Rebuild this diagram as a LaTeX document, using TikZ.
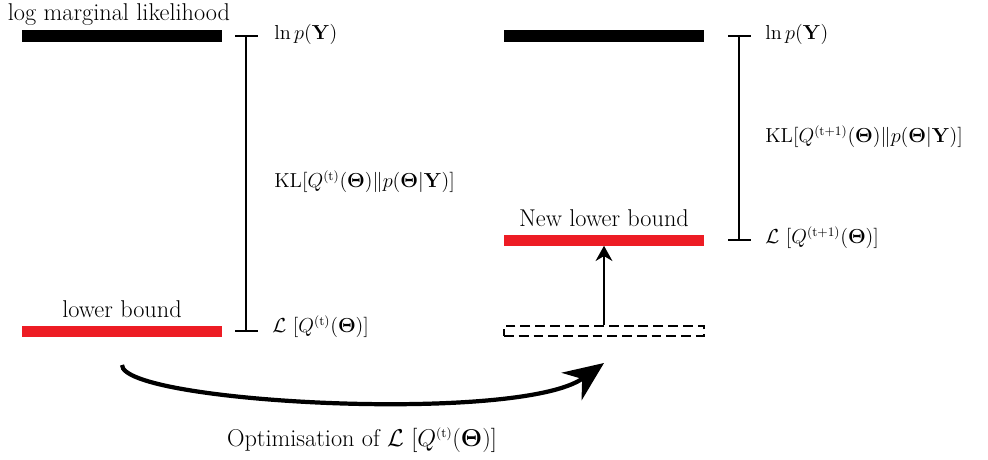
\documentclass[tikz,border=0pt]{standalone}
\usepackage{amsmath, amssymb, bm}
\usepackage{tikz}
\usetikzlibrary{arrows.meta, positioning, calc}
\definecolor{boundred}{RGB}{237, 28, 36}
\tikzset{
    level/.style={rectangle, inner sep=0pt, minimum width=5cm, minimum height=0.275cm},
    lml/.style={level, fill=black},
    lbound/.style={level, fill=boundred},
    oldbound/.style={level, draw, dashed, line width=1.1pt, dash pattern=on 7pt off 3.5pt, minimum height=0.25cm},
    gap/.style={line width=1.3pt},
    tag/.style={anchor=west, inner sep=0pt, font=\fontsize{15.6}{19}\selectfont},
    caption/.style={inner sep=0pt, font=\LARGE}
}
\newcommand{\Qt}[1]{Q^{\mbox{\fontsize{9.2}{10}\selectfont(#1)}}}

\begin{document}
\begin{tikzpicture}[
    x=0.025cm, y=-0.025cm,
    arrow/.style={-{Stealth[length=0.38cm, width=0.42cm]}, line width=1.4pt},
    bigarrow/.style={-{Stealth[length=1cm, width=0.85cm]}, line width=3pt}
]
    \useasboundingbox (0,0) rectangle (988,460);

    % --- LEFT: before the update ---
    \node[lml] (lmlA) at (122,36) {};
    \node[lbound] (lbA) at (122,331) {};
    \node[caption, anchor=base] (lmlAtxt) at (119,21) {log marginal likelihood};
    \node[caption, above=5pt of lbA] (lbAtxt) {lower bound};

    % bracket between ln p(Y) and L
    \coordinate (topA) at (246,36);
    \coordinate (botA) at (246,331);
    \draw[gap] (topA) -- (botA);
    \draw[gap] ($(topA)+(-11,0)$) -- ($(topA)+(12,0)$);
    \draw[gap] ($(botA)+(-11,0)$) -- ($(botA)+(12,0)$);
    \node[tag] (lnA) at (274,34) {$\ln p(\mathbf{Y})$};
    \node[tag] (klA) at (274,182) {$\mathrm{KL}[\Qt{t}(\bm{\Theta})\|p(\bm{\Theta}|\mathbf{Y})]$};
    \node[tag] (elboA) at (272,327) {$\mathcal{L}\ [\Qt{t}(\bm{\Theta})]$};

    % --- RIGHT: after the update ---
    \node[lml] (lmlB) at (604,36) {};
    \node[lbound] (lbB) at (604,240) {};
    \node[oldbound] (oldB) at (604,331) {};
    \node[caption, above=5pt of lbB] (lbBtxt) {New lower bound};
    \draw[arrow] (oldB.north) -- (lbB.south);

    \coordinate (topB) at (739,36);
    \coordinate (botB) at (739,240);
    \draw[gap] (topB) -- (botB);
    \draw[gap] ($(topB)+(-11,0)$) -- ($(topB)+(12,0)$);
    \draw[gap] ($(botB)+(-11,0)$) -- ($(botB)+(12,0)$);
    \node[tag] (lnB) at (765,34) {$\ln p(\mathbf{Y})$};
    \node[tag] (klB) at (765,137) {$\mathrm{KL}[\Qt{t+1}(\bm{\Theta})\|p(\bm{\Theta}|\mathbf{Y})]$};
    \node[tag] (elboB) at (765,238) {$\mathcal{L}\ [\Qt{t+1}(\bm{\Theta})]$};

    % --- Optimisation step ---
    \coordinate (optA) at (122,365);
    \coordinate (optB) at (604,363);
    \draw[bigarrow] (optA) .. controls (122,403) and (520,424) .. (optB);
    \node[caption] (opttxt) at (362,440) {Optimisation of $\mathcal{L}\ [\Qt{t}(\bm{\Theta})]$};

\end{tikzpicture}
\end{document}
